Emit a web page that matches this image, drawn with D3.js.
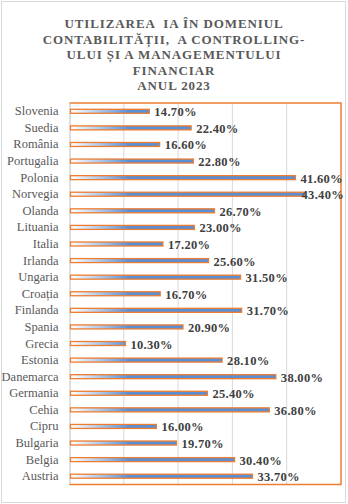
<!DOCTYPE html>
<html>
<head>
<meta charset="utf-8">
<script src="https://cdn.jsdelivr.net/npm/d3@7"></script>
<style>
  html, body { margin: 0; padding: 0; background: #fff; }
  svg { display: block; }
</style>
</head>
<body>
<div id="chart"></div>
<script>
// Countries, top to bottom
const countries = ["Slovenia", "Suedia", "România", "Portugalia", "Polonia", "Norvegia", "Olanda",
  "Lituania", "Italia", "Irlanda", "Ungaria", "Croația", "Finlanda", "Spania", "Grecia", "Estonia",
  "Danemarca", "Germania", "Cehia", "Cipru", "Bulgaria", "Belgia", "Austria"];
// Share of firms using AI (%)
const values = [14.7, 22.4, 16.6, 22.8, 41.6, 43.4, 26.7, 23.0, 17.2, 25.6, 31.5, 16.7, 31.7,
  20.9, 10.3, 28.1, 38.0, 25.4, 36.8, 16.0, 19.7, 30.4, 33.7];
const gridTicks = [10, 20, 30, 40];
const titleLines = ["UTILIZAREA  IA ÎN DOMENIUL", "CONTABILITĂȚII,  A CONTROLLING-",
  "ULUI ȘI A MANAGEMENTULUI", "FINANCIAR", "ANUL 2023"];

const W = 348, H = 504;
const plot = { left: 69.5, top: 103, right: 341, bottom: 484.5 };
const orange = "#ed7d31", blue = "#5a8fd4";
const SERIF = "Liberation Serif";

const svg = d3.select("#chart").append("svg").attr("width", W).attr("height", H)
  .attr("font-family", SERIF);

// outer chart frame
svg.append("rect").attr("x", 1.5).attr("y", 1.5).attr("width", W - 4).attr("height", H - 3)
  .attr("fill", "#fff").attr("stroke", "#d9d9d9").attr("stroke-width", 1);

// title
svg.append("g").selectAll("text").data(titleLines).join("text")
  .attr("x", 174).attr("y", (d, i) => 28 + i * 15.6)
  .attr("text-anchor", "middle")
  .attr("fill", "#595959")
  .attr("font-family", SERIF)
  .attr("font-weight", "bold")
  .attr("font-size", 13)
  .attr("letter-spacing", 0.9)
  .attr("xml:space", "preserve")
  .text(d => d);

const x = d3.scaleLinear().domain([0, 50]).range([plot.left, plot.right]);
const y = d3.scaleBand().domain(countries).range([plot.top, plot.bottom]);

// bar gradient: white at the axis fading into blue
const defs = svg.append("defs");
const grad = defs.append("linearGradient").attr("id", "barGrad")
  .attr("gradientUnits", "userSpaceOnUse")
  .attr("x1", x(0) + 2).attr("x2", x(11)).attr("y1", 0).attr("y2", 0);
grad.append("stop").attr("offset", "0%").attr("stop-color", "#ffffff");
grad.append("stop").attr("offset", "100%").attr("stop-color", blue);

// vertical gridlines
svg.append("g").selectAll("line").data(gridTicks).join("line")
  .attr("x1", d => x(d)).attr("x2", d => x(d))
  .attr("y1", plot.top).attr("y2", plot.bottom)
  .attr("stroke", "#d9d9d9").attr("stroke-width", 1);

// left category axis
const yAxis = d3.axisLeft(y).tickSize(0).tickPadding(11);
const ga = svg.append("g").attr("transform", `translate(${plot.left},0)`).call(yAxis)
  .attr("font-family", SERIF).attr("font-size", 12.5);
ga.select(".domain").attr("stroke", "#bfbfbf").attr("stroke-width", 1);
ga.selectAll("text")
  .attr("fill", "#595959")
  .attr("font-family", SERIF)
  .attr("font-size", 12.5);

// plot area border (top, right, bottom)
svg.append("path")
  .attr("d", `M${plot.left},${plot.top}H${plot.right}V${plot.bottom}H${plot.left}`)
  .attr("fill", "none").attr("stroke", orange).attr("stroke-width", 1.5);

// bars
const barH = 4;
svg.append("g").selectAll("rect").data(countries).join("rect")
  .attr("x", x(0) + 1)
  .attr("y", d => y(d) + y.bandwidth() / 2 - barH / 2)
  .attr("width", (d, i) => x(values[i]) - x(0) - 1)
  .attr("height", barH)
  .attr("fill", "url(#barGrad)")
  .attr("stroke", orange).attr("stroke-width", 1.3);

// value labels, pulled back inside the frame when they would overflow
const maxRight = W - 4;
svg.append("g").selectAll("text").data(countries).join("text")
  .attr("x", (d, i) => x(values[i]) + 5)
  .attr("y", d => y(d) + y.bandwidth() / 2 + 5)
  .attr("fill", "#404040")
  .attr("font-family", SERIF)
  .attr("font-weight", "bold")
  .attr("font-size", 12.5)
  .attr("letter-spacing", 0.3)
  .text((d, i) => values[i].toFixed(2) + "%")
  .each(function(d, i) {
    const w = this.getComputedTextLength();
    const x0 = x(values[i]) + 5;
    if (x0 + w > maxRight) d3.select(this).attr("x", maxRight - w);
  });
</script>
</body>
</html>
